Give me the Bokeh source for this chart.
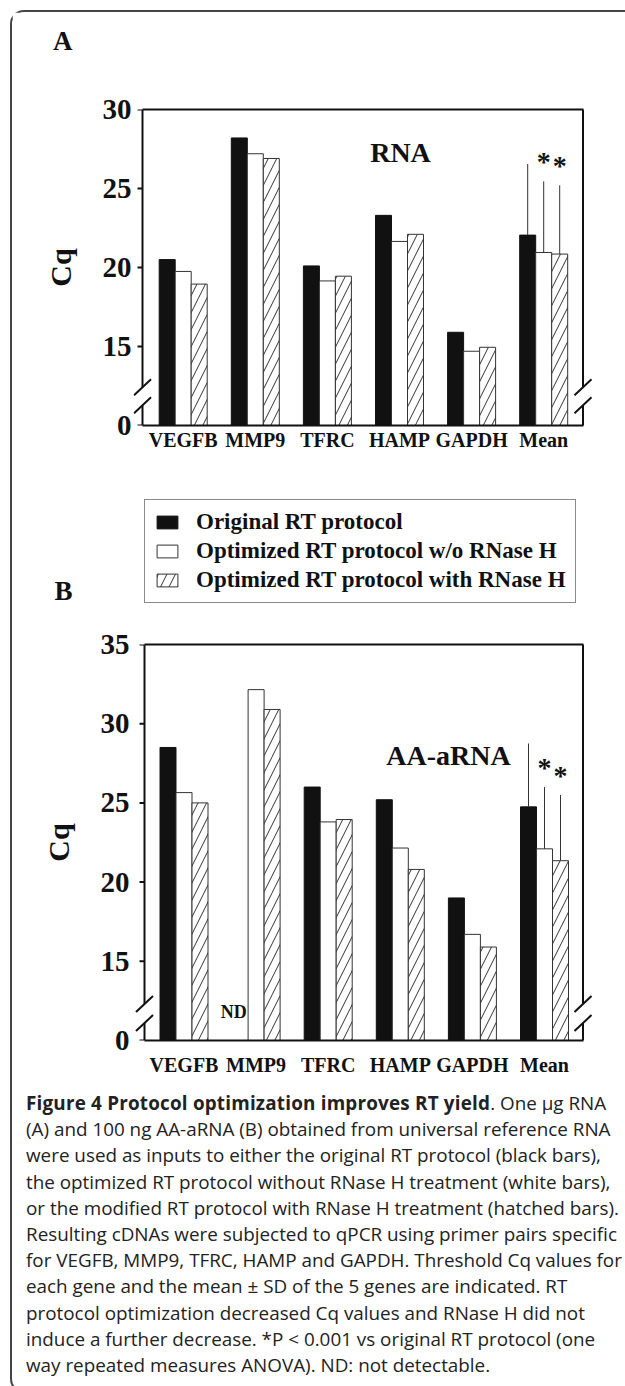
import numpy as np
from bokeh.plotting import figure
from bokeh.models import (Range1d, FixedTicker, LinearAxis, Legend, LegendItem,
                          Label, ColumnDataSource, Div)
from bokeh.layouts import column
from bokeh.embed import file_html
from bokeh.resources import INLINE

# ---------------------------------------------------------------- data
genes = ["VEGFB", "MMP9", "TFRC", "HAMP", "GAPDH", "Mean"]
protocols = ["Original RT protocol",
             "Optimized RT protocol w/o RNase H",
             "Optimized RT protocol with RNase H"]

# Panel A: 1 ug RNA input (Cq)
rna_original = [20.5, 28.2, 20.1, 23.3, 15.9, 22.05]
rna_optimized = [19.75, 27.2, 19.15, 21.65, 14.7, 20.95]
rna_rnase_h = [18.95, 26.9, 19.45, 22.1, 14.95, 20.85]
rna_mean_sd = [4.5, 4.5, 4.35]

# Panel B: 100 ng AA-aRNA input (Cq); MMP9 original = not detectable
aarna_original = [28.5, np.nan, 26.0, 25.2, 19.0, 24.75]
aarna_optimized = [25.65, 32.15, 23.8, 22.15, 16.7, 22.1]
aarna_rnase_h = [25.0, 30.9, 23.95, 20.8, 15.9, 21.35]
aarna_mean_sd = [4.0, 3.9, 4.15]

rna_ticks = [10, 15, 20, 25, 30]
aarna_ticks = [10, 15, 20, 25, 30, 35]
axis_floor = 10          # broken axis: the floor is labelled "0"
floor_label = "0"

caption_title = "Figure 4 Protocol optimization improves RT yield"
caption_lines = [
    ". One \u00b5g RNA",
    "(A) and 100 ng AA-aRNA (B) obtained from universal reference RNA",
    "were used as inputs to either the original RT protocol (black bars),",
    "the optimized RT protocol without RNase H treatment (white bars),",
    "or the modified RT protocol with RNase H treatment (hatched bars).",
    "Resulting cDNAs were subjected to qPCR using primer pairs specific",
    "for VEGFB, MMP9, TFRC, HAMP and GAPDH. Threshold Cq values for",
    "each gene and the mean \u00b1 SD of the 5 genes are indicated. RT",
    "protocol optimization decreased Cq values and RNase H did not",
    "induce a further decrease. *P &lt; 0.001 vs original RT protocol (one",
    "way repeated measures ANOVA). ND: not detectable.",
]

# ---------------------------------------------------------------- layout / style
SERIF = "Liberation Serif"
INK = "#111111"
EDGE = "#333333"
PAGE_W = 625
OX, OY = 12, 12           # content origin inside the rounded frame
FIG_W = PAGE_W - OX
FR_LEFT, FR_RIGHT = 133, 594   # common plot-frame edges (page px)
GROUP_PX = 72.1           # pixels between gene groups
BAR_W = 16 / GROUP_PX
OFFSETS = [-BAR_W, 0.0, BAR_W]

BAR_STYLES = [
    dict(fill_color=INK, line_color=INK, line_width=1),
    dict(fill_color="white", line_color=EDGE, line_width=1),
    dict(fill_color="white", line_color=EDGE, line_width=1,
         hatch_pattern="/", hatch_color=EDGE, hatch_weight=1, hatch_scale=17),
]


def bold_label(**kw):
    base = dict(text_font=SERIF, text_font_style="bold", text_color=INK,
                text_align="center", text_baseline="alphabetic")
    base.update(kw)
    return Label(**base)


def make_panel(values, sds, y_top, ticks, fig_top, fig_h, box, center0,
               xlab_standoff, break_ys, name, name_px):
    fw = FR_RIGHT - FR_LEFT
    x0 = -(center0 - FR_LEFT) / GROUP_PX
    x1 = x0 + fw / GROUP_PX
    ppy = (box["bottom"] - box["top"]) / (y_top - axis_floor)

    def px_x(px):
        return x0 + (px - FR_LEFT) / GROUP_PX

    def px_y(py):
        return axis_floor + (box["bottom"] - py) / ppy

    p = figure(width=FIG_W, height=fig_h,
               x_range=Range1d(x0, x1), y_range=Range1d(axis_floor, y_top),
               output_backend="svg", toolbar_location=None,
               min_border_left=FR_LEFT - OX,
               min_border_right=PAGE_W - FR_RIGHT,
               min_border_top=int(box["top"] - fig_top),
               min_border_bottom=int(fig_top + fig_h - box["bottom"]))
    p.grid.visible = False
    p.outline_line_color = None

    x = np.arange(len(genes))
    for k, vals in enumerate(values):
        vals = np.asarray(vals, dtype=float)
        ok = ~np.isnan(vals)
        src = ColumnDataSource(dict(x=x[ok] + OFFSETS[k], top=vals[ok]))
        p.vbar(x="x", top="top", bottom=axis_floor, width=BAR_W, source=src,
               **BAR_STYLES[k])

    # mean +/- SD (upper whisker only) and significance stars
    mi = genes.index("Mean")
    ex = [mi + o for o in OFFSETS]
    ey0 = [v[mi] for v in values]
    ey1 = [v[mi] + s for v, s in zip(values, sds)]
    p.segment(x0=ex, y0=ey0, x1=ex, y1=ey1, line_color=EDGE, line_width=1)
    for k in (1, 2):
        p.add_layout(bold_label(x=ex[k], y=ey1[k] + 19.5 / ppy,
                                text="*", text_font_size="28px"))

    # box edges with axis breaks
    xbl, xbr = px_x(box["left"]), px_x(box["right"])
    lo, hi = break_ys
    sx0, sy0, sx1, sy1 = [], [], [], []
    for xe in (xbl, xbr):
        sx0 += [xe, xe]; sx1 += [xe, xe]
        sy0 += [axis_floor, hi]; sy1 += [lo, y_top]
    p.segment(x0=sx0, y0=sy0, x1=sx1, y1=sy1, line_color=INK, line_width=2)
    hx, hy = 8.5 / GROUP_PX, 8.0 / ppy
    bx0, by0, bx1, by1 = [], [], [], []
    for xe in (xbl, xbr):
        for yb in break_ys:
            bx0.append(xe - hx); by0.append(yb - hy)
            bx1.append(xe + hx); by1.append(yb + hy)
    p.segment(x0=bx0, y0=by0, x1=bx1, y1=by1, line_color=INK, line_width=2)
    # y tick marks (outside the box)
    p.segment(x0=[px_x(box["left"] - 5)] * len(ticks), y0=ticks,
              x1=[xbl] * len(ticks), y1=ticks, line_color=INK, line_width=2)

    # axes
    p.xaxis.ticker = FixedTicker(ticks=list(x))
    p.xaxis.major_label_overrides = {int(i): g for i, g in enumerate(genes)}
    p.xaxis.bounds = (xbl, xbr)
    p.yaxis.ticker = FixedTicker(ticks=ticks)
    p.yaxis.major_label_overrides = {axis_floor: floor_label}
    for ax in (p.xaxis[0], p.yaxis[0]):
        ax.major_label_text_font = SERIF
        ax.major_label_text_font_style = "bold"
        ax.major_label_text_color = INK
        ax.minor_tick_line_color = None
        ax.major_tick_line_color = None
        ax.major_tick_out = 0
        ax.major_tick_in = 0
    p.xaxis.axis_line_width = 2
    p.xaxis.axis_line_color = INK
    p.yaxis.axis_line_color = None
    p.yaxis.major_label_text_font_size = "29px"
    p.yaxis.major_label_standoff = int(box["left"] - FR_LEFT - 9 + 2) if box["left"] - FR_LEFT > 9 else 2
    p.yaxis.axis_label = "Cq"
    p.yaxis.axis_label_text_font = SERIF
    p.yaxis.axis_label_text_font_style = "bold"
    p.yaxis.axis_label_text_font_size = "30px"
    p.yaxis.axis_label_text_color = INK
    p.yaxis.axis_label_standoff = 23
    p.xaxis.major_label_text_font_size = "20px"
    p.xaxis.major_label_standoff = xlab_standoff

    top_ax = LinearAxis(ticker=FixedTicker(ticks=[]), axis_line_width=2,
                        axis_line_color=INK, major_tick_line_color=None,
                        minor_tick_line_color=None, bounds=(xbl, xbr))
    p.add_layout(top_ax, "above")

    p.add_layout(bold_label(x=px_x(name_px[0]), y=px_y(name_px[1]),
                            text=name, text_font_size="28px"))
    return p, px_x, px_y


def strip(fig_top, height, letter, letter_y):
    """Blank band whose only axis carries the panel letter as its tick label."""
    s = figure(width=FIG_W, height=height, x_range=Range1d(0, 1),
               y_range=Range1d(fig_top + height, fig_top),
               output_backend="svg", toolbar_location=None, x_axis_type=None,
               min_border_left=FR_LEFT - OX, min_border_right=PAGE_W - FR_RIGHT,
               min_border_top=0, min_border_bottom=0)
    s.grid.visible = False
    s.outline_line_color = None
    s.yaxis.ticker = FixedTicker(ticks=[letter_y])
    s.yaxis.major_label_overrides = {letter_y: letter}
    s.yaxis.axis_line_color = None
    s.yaxis.major_tick_line_color = None
    s.yaxis.minor_tick_line_color = None
    s.yaxis.major_tick_out = 0
    s.yaxis.major_tick_in = 0
    s.yaxis.major_label_text_font = SERIF
    s.yaxis.major_label_text_font_style = "bold"
    s.yaxis.major_label_text_font_size = "27px"
    s.yaxis.major_label_text_color = INK
    s.yaxis.major_label_standoff = FR_LEFT - 72
    return s


# Header band with panel letter A ----------------------------------------
head = strip(OY, 70, "A", 40)

# Panel A ---------------------------------------------------------------
boxA = dict(left=142, right=582.5, top=109, bottom=425)
pA, pxA, pyA = make_panel(
    [rna_original, rna_optimized, rna_rnase_h], rna_mean_sd, 30, rna_ticks,
    fig_top=82, fig_h=384, box=boxA, center0=182.7, xlab_standoff=3,
    break_ys=[11.28, 12.42], name="RNA", name_px=(400, 151.5))

# Legend band with panel letter B --------------------------------------
mid = strip(466, 154, "B", 590)
# legend proxies: zero-size bars hidden underneath the opaque legend box
mid_rs = [mid.vbar(x=[0.5], top=[550.0], bottom=550.0, width=0.0, **BAR_STYLES[k])
          for k in range(3)]
legend = Legend(items=[LegendItem(label=protocols[k], renderers=[mid_rs[k]]) for k in range(3)],
                location=(144 - FR_LEFT, 620 - 603), orientation="vertical",
                border_line_color=INK, border_line_width=1.5,
                background_fill_color="white", background_fill_alpha=1.0,
                label_text_font=SERIF, label_text_font_style="bold",
                label_text_font_size="23px", label_text_color=INK,
                glyph_width=26, glyph_height=16, label_standoff=16,
                padding=9, spacing=3, margin=0, label_height=25)
mid.add_layout(legend)

# Panel B ---------------------------------------------------------------
boxB = dict(left=144, right=582.5, top=644, bottom=1040)
pB, pxB, pyB = make_panel(
    [aarna_original, aarna_optimized, aarna_rnase_h], aarna_mean_sd, 35, aarna_ticks,
    fig_top=620, fig_h=465, box=boxB, center0=183.5, xlab_standoff=13,
    break_ys=[11.1, 12.3], name="AA-aRNA", name_px=(448, 755))

mmp9 = genes.index("MMP9")
pB.add_layout(bold_label(x=mmp9 - BAR_W / 2 - 0.02, y=pyB(1011),
                         text="ND", text_font_size="18px", text_align="right"))

# Caption -----------------------------------------------------------------
cap_html = ('<div style="padding:0 0 0 9px; font-family:\'Open Sans\'; '
            'font-size:18.85px; line-height:26.2px; color:#222; white-space:nowrap;">'
            '<b style="letter-spacing:0.2px;">' + caption_title + '</b>' + caption_lines[0] +
            '<br>' + '<br>'.join(caption_lines[1:]) + '</div>')
cap = Div(text=cap_html, width=FIG_W, height=296)

root = column(head, pA, mid, pB, cap, spacing=0,
              styles={"border-top": "2px solid #444", "border-left": "2px solid #444",
                      "border-bottom": "2px solid #444",
                      "border-radius": "14px 0 0 14px",
                      "margin": "10px 0 0 10px"})

open("out.html", "w").write(file_html(root, INLINE))
